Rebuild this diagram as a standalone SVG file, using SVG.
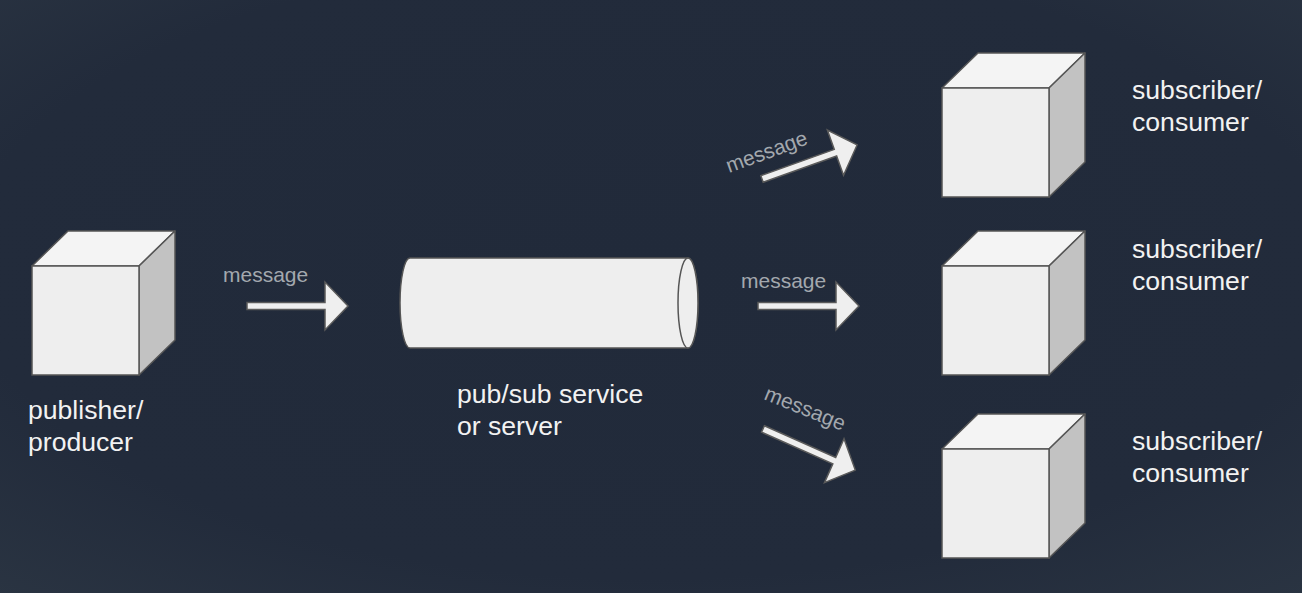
<svg xmlns="http://www.w3.org/2000/svg" width="1302" height="593" viewBox="0 0 1302 593">
<defs>
<radialGradient id="bg" cx="0.5" cy="0.45" r="0.75">
<stop offset="0" stop-color="#212a3a"/>
<stop offset="0.7" stop-color="#222b3b"/>
<stop offset="1" stop-color="#2a3442"/>
</radialGradient>
<g id="cube">
<polygon class="top" points="0,35 36,0 143,0 107,35"/>
<polygon class="side" points="107,35 143,0 143,109 107,144"/>
<rect class="front" x="0" y="35" width="107" height="109"/>
</g>
<polygon id="arrow" points="0,-3.5 78,-3.5 78,-24 101,0 78,24 78,3.5 0,3.5"/>
</defs>
<style>
.top{fill:#f4f4f4;stroke:#555;stroke-width:1.5;stroke-linejoin:round}
.side{fill:#c2c2c2;stroke:#555;stroke-width:1.5;stroke-linejoin:round}
.front{fill:#eeeeee;stroke:#555;stroke-width:1.5}
.arr{fill:#efefef;stroke:#5a5a5a;stroke-width:1.5;stroke-linejoin:miter}
.msg{font-family:"Liberation Sans",Arial,sans-serif;font-size:21px;fill:#a3a8ae}
.lbl{font-family:"Liberation Sans",Arial,sans-serif;font-size:26.6px;fill:#f2f2f2}
.cyl{fill:#eeeeee;stroke:#555;stroke-width:1.5}
</style>
<rect width="1302" height="593" fill="url(#bg)"/>

<g id="publisher">
<use href="#cube" transform="translate(32,231)"/>
<text class="lbl" x="28" y="419">publisher/</text>
<text class="lbl" x="28" y="451">producer</text>
</g>

<g id="pubsub">
<path class="cyl" d="M410 258 L688 258 A10 45 0 0 1 688 348 L410 348 A10 45 0 0 1 410 258 Z"/>
<ellipse class="cyl" cx="688" cy="303" rx="10" ry="45" fill="#f2f2f2"/>
<text class="lbl" x="457" y="403">pub/sub service</text>
<text class="lbl" x="457" y="435">or server</text>
</g>

<g id="subscriber1">
<use href="#cube" transform="translate(942,53)"/>
<text class="lbl" x="1132" y="99">subscriber/</text>
<text class="lbl" x="1132" y="131">consumer</text>
</g>

<g id="subscriber2">
<use href="#cube" transform="translate(942,231)"/>
<text class="lbl" x="1132" y="258">subscriber/</text>
<text class="lbl" x="1132" y="290">consumer</text>
</g>

<g id="subscriber3">
<use href="#cube" transform="translate(942,414)"/>
<text class="lbl" x="1132" y="450">subscriber/</text>
<text class="lbl" x="1132" y="482">consumer</text>
</g>

<g id="connectors">
<use href="#arrow" class="arr" transform="translate(247,306)"/>
<text class="msg" x="223" y="282">message</text>

<use href="#arrow" class="arr" transform="translate(762,179) rotate(-19.7)"/>
<text class="msg" transform="translate(729,173) rotate(-20)">message</text>

<use href="#arrow" class="arr" transform="translate(758,306)"/>
<text class="msg" x="741" y="288">message</text>

<use href="#arrow" class="arr" transform="translate(763,429) rotate(24)"/>
<text class="msg" transform="translate(763,399) rotate(22)">message</text>
</g>
</svg>
